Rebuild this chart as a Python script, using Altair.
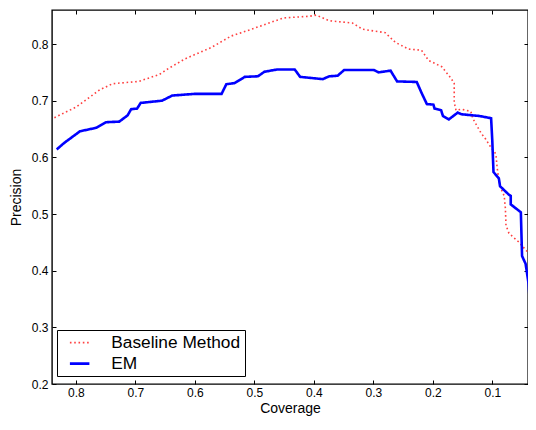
import altair as alt
import pandas as pd

series_names = ["Baseline Method", "EM"]

coverage_baseline = [0.836, 0.799, 0.760, 0.738, 0.694, 0.660, 0.644, 0.616, 0.572, 0.539,
                     0.505, 0.478, 0.451, 0.407, 0.396, 0.374, 0.335, 0.318, 0.280, 0.263,
                     0.241, 0.219, 0.207, 0.185, 0.172, 0.164, 0.164, 0.161, 0.152, 0.136,
                     0.133, 0.119, 0.111, 0.102, 0.094, 0.092, 0.089, 0.086, 0.080, 0.078,
                     0.077, 0.072, 0.056, 0.039, 0.034]
precision_baseline = [0.670, 0.689, 0.719, 0.730, 0.734, 0.746, 0.757, 0.774, 0.794, 0.814,
                      0.826, 0.836, 0.846, 0.849, 0.851, 0.841, 0.837, 0.826, 0.820, 0.803,
                      0.791, 0.789, 0.771, 0.760, 0.743, 0.731, 0.697, 0.683, 0.685, 0.681,
                      0.669, 0.643, 0.632, 0.617, 0.606, 0.583, 0.560, 0.546, 0.532, 0.510,
                      0.480, 0.466, 0.451, 0.431, 0.415]

coverage_em = [0.832, 0.820, 0.793, 0.766, 0.749, 0.727, 0.713, 0.707, 0.697, 0.691,
               0.655, 0.638, 0.600, 0.555, 0.547, 0.533, 0.516, 0.494, 0.483, 0.462,
               0.432, 0.423, 0.385, 0.374, 0.360, 0.349, 0.299, 0.291, 0.271, 0.260,
               0.227, 0.219, 0.210, 0.199, 0.197, 0.186, 0.183, 0.173, 0.158, 0.152,
               0.122, 0.102, 0.100, 0.098, 0.089, 0.087, 0.072, 0.069, 0.069, 0.052,
               0.050, 0.044, 0.039, 0.034]
precision_em = [0.614, 0.625, 0.646, 0.652, 0.662, 0.663, 0.674, 0.685, 0.686, 0.696,
                0.700, 0.709, 0.712, 0.712, 0.729, 0.731, 0.742, 0.743, 0.751, 0.755,
                0.755, 0.742, 0.738, 0.743, 0.744, 0.754, 0.754, 0.750, 0.753, 0.734,
                0.733, 0.714, 0.694, 0.693, 0.686, 0.683, 0.673, 0.667, 0.679, 0.676,
                0.673, 0.669, 0.629, 0.574, 0.563, 0.549, 0.534, 0.532, 0.517, 0.503,
                0.426, 0.412, 0.377, 0.300]

x_ticks = [0.1, 0.2, 0.3, 0.4, 0.5, 0.6, 0.7, 0.8]
y_ticks = [0.2, 0.3, 0.4, 0.5, 0.6, 0.7, 0.8]

rows = []
for i, (c, p) in enumerate(zip(coverage_baseline, precision_baseline)):
    rows.append({"series": series_names[0], "coverage": c, "precision": p, "order": i})
for i, (c, p) in enumerate(zip(coverage_em, precision_em)):
    rows.append({"series": series_names[1], "coverage": c, "precision": p, "order": i})
df = pd.DataFrame(rows)

xscale = alt.Scale(domain=[0.04, 0.84], reverse=True, nice=False, zero=False)
yscale = alt.Scale(domain=[0.2, 0.86], nice=False, zero=False)

legend_cfg = alt.Legend(
    title=None, orient="none", legendX=5, legendY=320,
    strokeColor="black", fillColor="white", padding=4,
    symbolType="M-1.95,0H1.95", symbolSize=100, symbolStrokeWidth=2,
    symbolOffset=10, labelOffset=23,
    labelFontSize=17.3, labelFont="Liberation Sans", labelColor="black",
    rowPadding=3,
)

base = alt.Chart(df)

lines = base.mark_line(clip=True).encode(
    x=alt.X("coverage:Q", scale=xscale,
            axis=alt.Axis(orient="bottom", values=x_ticks, format=".1f", title="Coverage",
                          ticks=False, tickSize=0, labelPadding=3, titlePadding=3, domain=False)),
    y=alt.Y("precision:Q", scale=yscale,
            axis=alt.Axis(orient="left", values=y_ticks, format=".1f", title="Precision",
                          ticks=False, tickSize=0, labelPadding=4, titlePadding=8, domain=False)),
    color=alt.Color("series:N", scale=alt.Scale(domain=series_names, range=["#ff4040", "#0000ff"]),
                    legend=legend_cfg),
    strokeDash=alt.StrokeDash("series:N", scale=alt.Scale(domain=series_names, range=[[1.6, 2.7], [1, 0]]),
                              legend=legend_cfg),
    strokeWidth=alt.StrokeWidth("series:N", scale=alt.Scale(domain=series_names, range=[1.6, 2.6]),
                                legend=None),
    order="order:Q",
)

ticks_a = base.mark_line(opacity=0).encode(
    x=alt.X("coverage:Q", scale=xscale,
            axis=alt.Axis(orient="bottom", values=x_ticks, labels=False, title=None,
                          domain=False, ticks=True, tickSize=4, offset=-4)),
    y=alt.Y("precision:Q", scale=yscale,
            axis=alt.Axis(orient="left", values=y_ticks, labels=False, title=None,
                          domain=False, ticks=True, tickSize=4, offset=-4)),
)

ticks_b = base.mark_line(opacity=0).encode(
    x=alt.X("coverage:Q", scale=xscale,
            axis=alt.Axis(orient="top", values=x_ticks, labels=False, title=None,
                          domain=False, ticks=True, tickSize=4, offset=-4)),
    y=alt.Y("precision:Q", scale=yscale,
            axis=alt.Axis(orient="right", values=y_ticks, labels=False, title=None,
                          domain=False, ticks=True, tickSize=4, offset=-4)),
)

chart = alt.layer(lines, ticks_a, ticks_b).resolve_axis(
    x="independent", y="independent"
).properties(
    width=476, height=374,
    autosize=alt.AutoSizeParams(type="none"),
    padding={"left": 44, "top": 2, "right": 0, "bottom": 34},
).configure_view(
    stroke="black", strokeWidth=1.4
).configure_axis(
    grid=False, tickColor="black", tickWidth=1, labelColor="black", titleColor="black",
    labelFont="Liberation Sans", titleFont="Liberation Sans",
    labelFontSize=12, titleFontSize=14, titleFontWeight="normal",
)

chart.save("out.html", embed_options={"renderer": "svg", "actions": False})
